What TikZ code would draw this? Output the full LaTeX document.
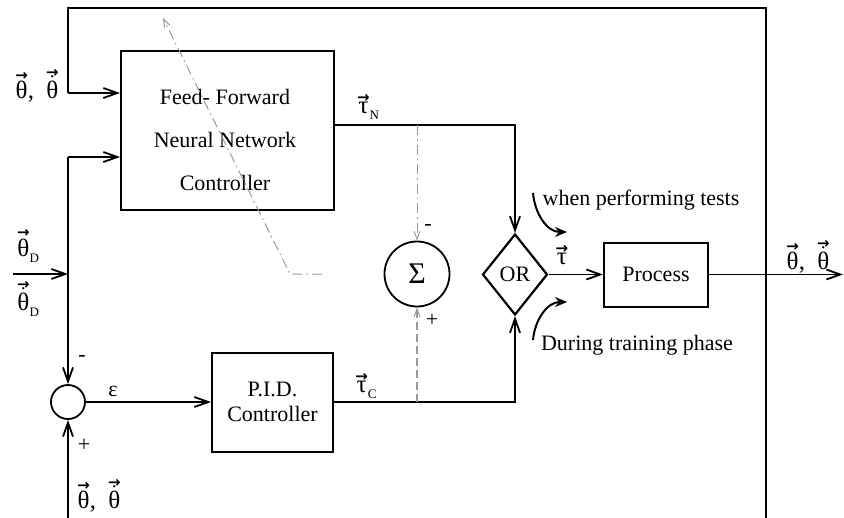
\documentclass[tikz,border=0pt]{standalone}
\usepackage{fontspec}
\setmainfont{Liberation Serif}
\newfontfamily\arrfont{DejaVu Sans}
\usetikzlibrary{arrows.meta,shapes.geometric}

% vector symbols used in the labels: a heavy arrow stacked over the letter
\newcommand{\arrowover}[2][0.4pt]{\begingroup
  \setbox0\hbox{#2}%
  \setbox2\hbox{\arrfont\bfseries\fontsize{7.5}{7.5}\selectfont →}%
  \vbox{\offinterlineskip\halign{\hfil##\hfil\cr\box2\cr\noalign{\kern#1}\box0\cr}}%
  \endgroup}
\newcommand{\vth}{\arrowover{θ}}
\newcommand{\vthd}{\arrowover[-1.2pt]{$\dot{\mbox{θ}}$}}
\newcommand{\vtau}{\arrowover[-0.6pt]{τ}}
\newcommand{\sbs}[1]{\raisebox{-3pt}{\fontsize{6.5}{7}\selectfont #1}}
\newcommand{\thpair}{\vth,\hspace{6pt}\vthd}

\begin{document}
\begin{tikzpicture}[x=0.5pt,y=-0.5pt,
  every node/.style={font=\fontsize{11}{13}\selectfont},
  blockbox/.style={draw, line width=1pt, rectangle, inner sep=0pt},
  wire/.style={line width=0.9pt},
  flow/.style={wire, -{Straight Barb[length=7pt,width=5pt,line width=0.9pt]}},
  ghostdd/.style={draw=black!40, line width=0.5pt, dash pattern=on 5pt off 2pt on 0.8pt off 2pt,
    -{Straight Barb[length=4pt,width=3pt,line width=0.5pt]}},
  ghostd/.style={draw=black!40, line width=0.6pt, dash pattern=on 4pt off 2pt,
    -{Straight Barb[length=4pt,width=3pt,line width=0.5pt]}},
  modearrow/.style={line width=1pt, -{Stealth[length=6pt,width=5pt]}},
  lbl/.style={inner sep=0pt},
  sym/.style={inner sep=0pt, font=\fontsize{12.5}{14}\selectfont}]

\useasboundingbox (0,0) rectangle (844,518);

% blocks
\node[blockbox, minimum width=106.5pt, minimum height=79.5pt] (nn) at (227.5,130.5) {};
\node[lbl, align=center, font=\fontsize{11}{21.5}\selectfont] (nntext) at (225,140)
  {Feed- Forward\\Neural Network\\Controller};
\node[blockbox, minimum width=60.5pt, minimum height=49.5pt, align=center,
  font=\fontsize{11}{12.5}\selectfont] (pid) at (272.5,402) {P.I.D.\\Controller};
\node[blockbox, minimum width=52pt, minimum height=32pt] (proc) at (656,274.5) {Process};
\node[draw, line width=1.1pt, diamond, minimum width=32.5pt, minimum height=40.5pt,
  inner sep=0pt] (or) at (515,274.5) {OR};
\node[draw, line width=0.9pt, circle, minimum size=32.5pt, inner sep=0pt,
  font=\fontsize{15}{16}\selectfont] (sig) at (417,274) {Σ};
\node[draw, line width=0.9pt, circle, minimum size=17pt, inner sep=0pt] (sum) at (68,402) {};

% junction and edge points
\coordinate (tl) at (68,8);
\coordinate (tr) at (766,8);
\coordinate (br) at (766,518);
\coordinate (jn) at (766,274.5);
\coordinate (fb) at (68,93);
\coordinate (sp) at (68,157);
\coordinate (din) at (13,274);
\coordinate (dj) at (68,274);
\coordinate (bot) at (68,518);
\coordinate (out) at (843,274.5);
\coordinate (tn) at (515,125);
\coordinate (gs) at (322,274);
\coordinate (gk) at (290,274);
\coordinate (gt) at (163,18);
\coordinate (w1) at (533,193);
\coordinate (w2) at (567,232);
\coordinate (d1) at (533,340);
\coordinate (d2) at (567,302);

% feedback loop and inputs
\draw[wire] (br) -- (tr) -- (tl) -- (fb);
\draw[flow] (fb) -- (nn.west |- fb);
\draw[flow] (sp) -- (nn.west |- sp);
\draw[flow] (sp) -- (sum.north);
\draw[flow] (din) -- (dj);
\draw[flow] (bot) -- (sum.south);
\draw[flow] (sum.east) -- (pid.west);

% controller outputs to the selector
\draw[flow] (nn.east |- tn) -- (tn) -- (or.north);
\draw[flow] (pid.east) -- (pid.east -| or) -- (or.south);
\draw[flow] (or.east) -- (proc.west);
\draw[flow] (proc.east) -- (out);

% training error path
\draw[ghostdd] (sig |- tn) -- (sig.north);
\draw[ghostd] (sig |- pid.east) -- (sig.south);
\draw[ghostdd] (gs) -- (gk) -- (gt);

% mode arrows
\draw[modearrow] (w1) to[out=-85,in=180] (w2);
\draw[modearrow] (d1) to[out=85,in=180] (d2);

% labels
\node[sym] (l1) at (37,86) {\thpair};
\node[sym] (l2) at (28,246) {\vth\sbs{D}};
\node[sym] (l3) at (28,299) {\vthd\sbs{D}};
\node[sym] (l4) at (99,496) {\thpair};
\node[lbl] (l5) at (113,391) {ε};
\node[lbl] (l6) at (82,358) {-};
\node[lbl] (l7) at (84,445) {+};
\node[sym] (l8) at (368,107) {\vtau\sbs{N}};
\node[sym] (l9) at (366,386) {\vtau\sbs{C}};
\node[lbl] (l10) at (428,227) {-};
\node[lbl] (l11) at (432,320) {+};
\node[sym] (l12) at (562,255) {\vtau};
\node[sym] (l13) at (808,257) {\thpair};
\node[lbl] (l14) at (641,200) {when performing tests};
\node[lbl] (l15) at (637,345) {During training phase};
\end{tikzpicture}
\end{document}
